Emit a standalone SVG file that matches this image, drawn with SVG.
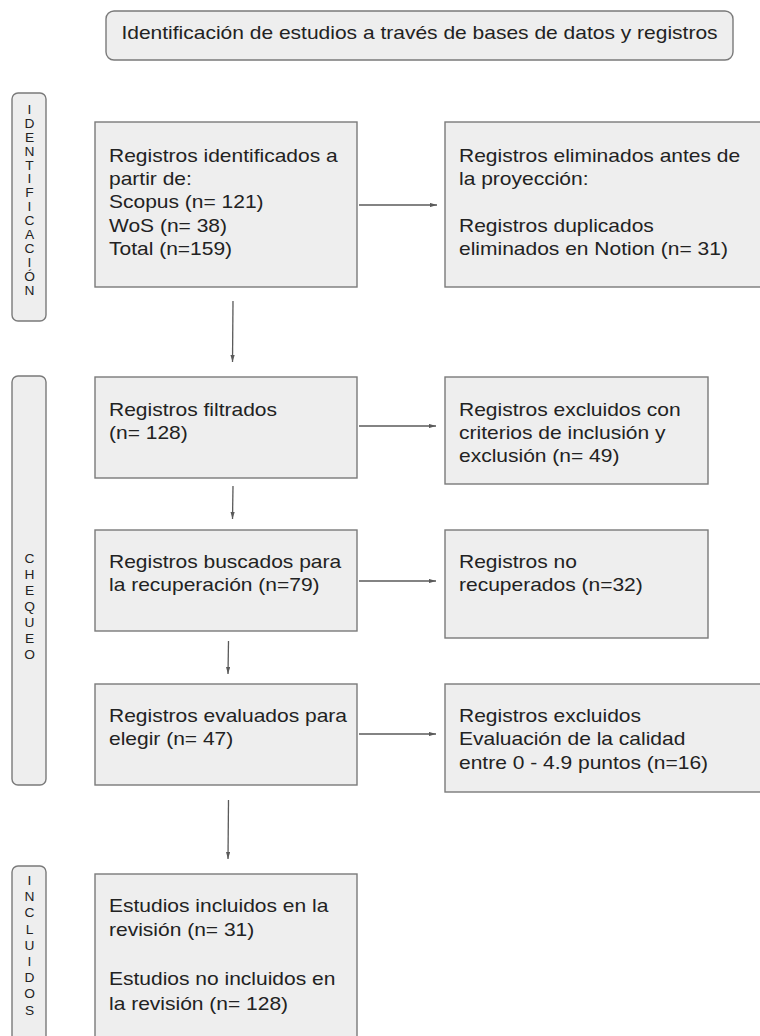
<svg xmlns="http://www.w3.org/2000/svg" width="760" height="1036" viewBox="0 0 760 1036">
<defs>
<style>
.bx{fill:#eeeeee;stroke:#7a7a7a;stroke-width:1.4}
.t{font-family:"Liberation Sans",Arial,sans-serif;font-size:17.8px;fill:#222}
.s{font-family:"Liberation Sans",Arial,sans-serif;font-size:12.5px;fill:#222;text-anchor:middle}
.c{stroke:#5a5a5a;stroke-width:1.3;fill:none;marker-end:url(#ah)}
</style>
<marker id="ah" viewBox="0 0 10 6" refX="10" refY="3" markerWidth="7" markerHeight="4.2" markerUnits="userSpaceOnUse" orient="auto">
<path d="M0,0 L10,3 L0,6 Z" fill="#5a5a5a"/>
</marker>
</defs>
<rect width="760" height="1036" fill="#ffffff"/>

<g id="title">
<rect class="bx" x="106" y="11" width="627" height="49" rx="8"/>
<text class="t" text-anchor="middle" transform="translate(419.5,39) scale(1.18,1)">Identificación de estudios a través de bases de datos y registros</text>
</g>

<g id="lbl-identificacion">
<rect class="bx" x="12" y="93" width="34" height="228" rx="6"/>
<text class="s" transform="translate(29.5,114) scale(1.1,1)"><tspan x="0" dy="0">I</tspan><tspan x="0" dy="13.9">D</tspan><tspan x="0" dy="13.9">E</tspan><tspan x="0" dy="13.9">N</tspan><tspan x="0" dy="13.9">T</tspan><tspan x="0" dy="13.9">I</tspan><tspan x="0" dy="13.9">F</tspan><tspan x="0" dy="13.9">I</tspan><tspan x="0" dy="13.9">C</tspan><tspan x="0" dy="13.9">A</tspan><tspan x="0" dy="13.9">C</tspan><tspan x="0" dy="13.9">I</tspan><tspan x="0" dy="13.9">Ó</tspan><tspan x="0" dy="13.9">N</tspan></text>
</g>

<g id="lbl-chequeo">
<rect class="bx" x="12" y="376" width="34" height="409" rx="6"/>
<text class="s" transform="translate(29.5,563) scale(1.1,1)"><tspan x="0" dy="0">C</tspan><tspan x="0" dy="16">H</tspan><tspan x="0" dy="16">E</tspan><tspan x="0" dy="16">Q</tspan><tspan x="0" dy="16">U</tspan><tspan x="0" dy="16">E</tspan><tspan x="0" dy="16">O</tspan></text>
</g>

<g id="lbl-incluidos">
<rect class="bx" x="12" y="866" width="34" height="190" rx="6"/>
<text class="s" transform="translate(29.5,885) scale(1.1,1)"><tspan x="0" dy="0">I</tspan><tspan x="0" dy="16.2">N</tspan><tspan x="0" dy="16.2">C</tspan><tspan x="0" dy="16.2">L</tspan><tspan x="0" dy="16.2">U</tspan><tspan x="0" dy="16.2">I</tspan><tspan x="0" dy="16.2">D</tspan><tspan x="0" dy="16.2">O</tspan><tspan x="0" dy="16.2">S</tspan></text>
</g>

<g id="n1">
<rect class="bx" x="95" y="122" width="262" height="165"/>
<text class="t" transform="translate(109,161.7) scale(1.18,1)"><tspan x="0" dy="0">Registros identificados a</tspan><tspan x="0" dy="23.3">partir de:</tspan><tspan x="0" dy="23.3">Scopus (n= 121)</tspan><tspan x="0" dy="23.3">WoS (n= 38)</tspan><tspan x="0" dy="23.3">Total (n=159)</tspan></text>
</g>

<g id="n2">
<rect class="bx" x="445" y="122" width="320" height="165"/>
<text class="t" transform="translate(459,161.7) scale(1.18,1)"><tspan x="0" dy="0">Registros eliminados antes de</tspan><tspan x="0" dy="23.3">la proyección:</tspan><tspan x="0" dy="46.6">Registros duplicados</tspan><tspan x="0" dy="23.3">eliminados en Notion (n= 31)</tspan></text>
</g>

<g id="n3">
<rect class="bx" x="95" y="377" width="262" height="101"/>
<text class="t" transform="translate(109,415.5) scale(1.18,1)"><tspan x="0" dy="0">Registros filtrados</tspan><tspan x="0" dy="23.3">(n= 128)</tspan></text>
</g>

<g id="n4">
<rect class="bx" x="445" y="377" width="263" height="107"/>
<text class="t" transform="translate(459,415.5) scale(1.18,1)"><tspan x="0" dy="0">Registros excluidos con</tspan><tspan x="0" dy="23.3">criterios de inclusión y</tspan><tspan x="0" dy="23.3">exclusión (n= 49)</tspan></text>
</g>

<g id="n5">
<rect class="bx" x="95" y="530" width="262" height="101"/>
<text class="t" transform="translate(109,568) scale(1.18,1)"><tspan x="0" dy="0">Registros buscados para</tspan><tspan x="0" dy="23.3">la recuperación (n=79)</tspan></text>
</g>

<g id="n6">
<rect class="bx" x="445" y="530" width="263" height="108"/>
<text class="t" transform="translate(459,568) scale(1.18,1)"><tspan x="0" dy="0">Registros no</tspan><tspan x="0" dy="23.3">recuperados (n=32)</tspan></text>
</g>

<g id="n7">
<rect class="bx" x="95" y="684" width="262" height="101"/>
<text class="t" transform="translate(109,722) scale(1.18,1)"><tspan x="0" dy="0">Registros evaluados para</tspan><tspan x="0" dy="23.3">elegir (n= 47)</tspan></text>
</g>

<g id="n8">
<rect class="bx" x="445" y="684" width="320" height="108"/>
<text class="t" transform="translate(459,722) scale(1.18,1)"><tspan x="0" dy="0">Registros excluidos</tspan><tspan x="0" dy="23.3">Evaluación de la calidad</tspan><tspan x="0" dy="23.3">entre 0 - 4.9 puntos (n=16)</tspan></text>
</g>

<g id="n9">
<rect class="bx" x="95" y="874" width="262" height="180"/>
<text class="t" transform="translate(109,912) scale(1.18,1)"><tspan x="0" dy="0">Estudios incluidos en la</tspan><tspan x="0" dy="24.5">revisión (n= 31)</tspan><tspan x="0" dy="49">Estudios no incluidos en</tspan><tspan x="0" dy="24.5">la revisión (n= 128)</tspan></text>
</g>

<g id="connectors">
<line class="c" x1="359" y1="205" x2="437" y2="205"/>
<line class="c" x1="233" y1="301" x2="232.5" y2="362"/>
<line class="c" x1="359" y1="426" x2="436" y2="426"/>
<line class="c" x1="233" y1="486" x2="232.5" y2="519"/>
<line class="c" x1="359" y1="581" x2="436" y2="581"/>
<line class="c" x1="228.5" y1="641" x2="228" y2="674"/>
<line class="c" x1="359" y1="734" x2="436" y2="734"/>
<line class="c" x1="228.5" y1="800" x2="228" y2="859"/>
</g>
</svg>
